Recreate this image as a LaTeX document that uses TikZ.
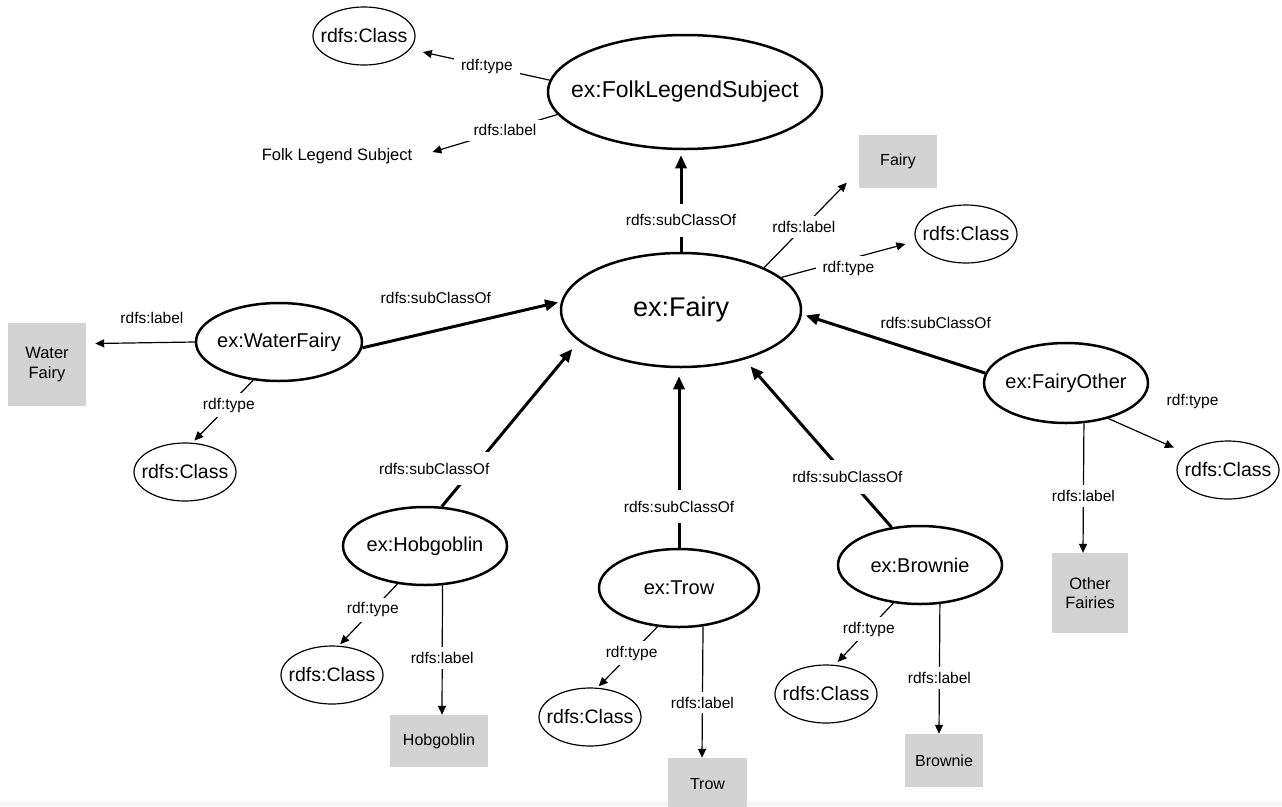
\documentclass[tikz,border=0pt]{standalone}
\usepackage{fontspec}
\setmainfont{Liberation Sans}
\usetikzlibrary{arrows.meta,shapes.geometric}
\definecolor{boxgray}{RGB}{211,211,211}
\definecolor{stripgray}{RGB}{245,245,245}
% zero-width text so the ellipse size comes only from minimum width/height
\newcommand\zwtext[1]{\makebox[0pt]{#1}}

\begin{document}
\begin{tikzpicture}[x=1pt,y=-1pt,
  cls/.style={ellipse, draw, line width=2.5pt, inner sep=0pt},
  rdfcls/.style={ellipse, draw, line width=1.2pt, inner sep=0pt,
    minimum width=102pt, minimum height=58pt, font=\fontsize{19.5}{22}\selectfont},
  litbox/.style={fill=boxgray, inner sep=0pt, align=center,
    font=\fontsize{16}{19}\selectfont},
  lbl/.style={fill=white, inner xsep=7pt, inner ysep=5pt,
    font=\fontsize{15.5}{18}\selectfont},
  sublbl/.style={lbl, inner ysep=11pt},
  thinarr/.style={line width=1.2pt, -{Triangle[length=9pt,width=8pt]}},
  thickarr/.style={line width=3pt, -{Triangle[length=13pt,width=11pt]}},
]
\useasboundingbox[fill=white] (0,0) rectangle (1282,806);
\fill[stripgray] (0,802) rectangle (1282,806);

% class nodes
\node[cls, minimum width=274pt, minimum height=114pt, font=\fontsize{23}{26}\selectfont]
  (fls) at (685,92) {\zwtext{ex:FolkLegendSubject}};
\node[cls, minimum width=240pt, minimum height=114pt, font=\fontsize{27}{30}\selectfont]
  (fairy) at (681,310) {\zwtext{ex:Fairy}};
\node[cls, minimum width=166pt, minimum height=78pt, font=\fontsize{20}{24}\selectfont]
  (wf) at (279,342) {\zwtext{ex:WaterFairy}};
\node[cls, minimum width=164pt, minimum height=78pt, font=\fontsize{20}{24}\selectfont]
  (hob) at (425,546) {\zwtext{ex:Hobgoblin}};
\node[cls, minimum width=160pt, minimum height=78pt, font=\fontsize{20}{24}\selectfont]
  (trow) at (679,588) {\zwtext{ex:Trow}};
\node[cls, minimum width=164pt, minimum height=78pt, font=\fontsize{20}{24}\selectfont]
  (brownie) at (920,565) {\zwtext{ex:Brownie}};
\node[cls, minimum width=164pt, minimum height=80pt, font=\fontsize{20}{24}\selectfont]
  (fo) at (1066,383) {\zwtext{ex:FairyOther}};

% rdfs:Class nodes
\node[rdfcls] (rc1) at (364,36) {\zwtext{rdfs:Class}};
\node[rdfcls] (rc2) at (966,234) {\zwtext{rdfs:Class}};
\node[rdfcls] (rc3) at (1228,470) {\zwtext{rdfs:Class}};
\node[rdfcls] (rc4) at (185,472) {\zwtext{rdfs:Class}};
\node[rdfcls] (rc5) at (332,675) {\zwtext{rdfs:Class}};
\node[rdfcls] (rc6) at (590,717) {\zwtext{rdfs:Class}};
\node[rdfcls] (rc7) at (826,694) {\zwtext{rdfs:Class}};

% literals
\node[inner sep=0pt, font=\fontsize{16.5}{19}\selectfont] (ffls) at (337,156) {Folk Legend Subject};
\node[litbox, minimum width=78pt, minimum height=53pt] (fairybox) at (898,161) {Fairy};
\node[litbox, minimum width=78pt, minimum height=83pt, font=\fontsize{16.5}{20}\selectfont]
  (wfbox) at (47,364.5) {Water\\Fairy};
\node[litbox, minimum width=98pt, minimum height=52pt] (hobbox) at (439,741) {Hobgoblin};
\node[litbox, minimum width=79pt, minimum height=52pt] (trowbox) at (707.5,784) {Trow};
\node[litbox, minimum width=78pt, minimum height=53pt] (brbox) at (944,760.5) {Brownie};
\node[litbox, minimum width=76pt, minimum height=80pt, font=\fontsize{16.5}{19}\selectfont]
  (fobox) at (1090,593) {Other\\Fairies};

% ex:FolkLegendSubject
\draw[thinarr, shorten >=13pt] (fls.175.8) -- node[lbl,pos=0.45]{rdf:type} (rc1.-16.6);
\draw[thinarr] (fls.190.9) -- node[lbl,pos=0.42]{rdfs:label} ([xshift=20pt,yshift=4pt]ffls.east);

% ex:Fairy
\draw[thickarr, shorten >=5pt] (fairy.north) -- node[sublbl,pos=0.31]{rdfs:subClassOf} (fairy.north |- fls.south);
\draw[thinarr] (fairy.27.4) -- node[lbl,pos=0.48]{rdfs:label} ([xshift=-12pt,yshift=5pt]fairybox.south west);
\draw[thinarr] (fairy.18.3) -- node[lbl,pos=0.54,yshift=-9pt]{rdf:type} ([xshift=-9pt,yshift=-10pt]rc2.west);

% ex:WaterFairy
\draw[thickarr, shorten >=3pt] (wf.-4.1) -- node[lbl,pos=0.37,yshift=33pt]{rdfs:subClassOf} (fairy.176);
\draw[thinarr] (wf.west) -- node[lbl,pos=0.43,yshift=25pt]{rdfs:label} ([xshift=9pt,yshift=21pt]wfbox.east);
\draw[thinarr, shorten >=3pt] (wf.-124) -- node[lbl,pos=0.4]{rdf:type} (rc4.76);

% ex:Hobgoblin
\draw[thickarr, shorten >=10pt] (hob.67.3) -- node[sublbl,pos=0.23,xshift=-39pt]{rdfs:subClassOf} (fairy.197.8);
\draw[thinarr, shorten >=2pt] (hob.-126.1) -- node[lbl,pos=0.42]{rdf:type} (rc5.77);
\draw[thinarr] (hob.-66) -- node[lbl,pos=0.56]{rdfs:label} ([xshift=3pt]hobbox.north);

% ex:Trow
\draw[thickarr, shorten >=8pt] (trow.north) -- node[sublbl,pos=0.23]{rdfs:subClassOf} (trow.north |- fairy.south);
\draw[thinarr, shorten >=2pt] (trow.-119.4) -- node[lbl,pos=0.43]{rdf:type} (rc6.76);
\draw[thinarr] (trow.-58.4) -- node[lbl,pos=0.58]{rdfs:label} ([xshift=-5.5pt]trowbox.north);

% ex:Brownie
\draw[thickarr, shorten >=9pt] (brownie.127.1) -- node[sublbl,pos=0.3]{rdfs:subClassOf} (fairy.-38.6);
\draw[thinarr, shorten >=4pt] (brownie.-125.4) -- node[lbl,pos=0.42]{rdf:type} (rc7.73);
\draw[thinarr] (brownie.-63.4) -- node[lbl,pos=0.57]{rdfs:label} ([xshift=-5pt]brbox.north);

% ex:FairyOther
\draw[thickarr, shorten >=4pt] (fo.173) -- node[lbl,pos=0.27,yshift=34pt]{rdfs:subClassOf} (fairy.-2);
\draw[thinarr, shorten >=13pt] (fo.-40.5) -- node[lbl,pos=0.7,xshift=30pt,yshift=41pt]{rdf:type} (rc3.158);
\draw[thinarr] (fo.-66.4) -- node[lbl,pos=0.56]{rdfs:label} ([xshift=-7pt]fobox.north);
\end{tikzpicture}
\end{document}
